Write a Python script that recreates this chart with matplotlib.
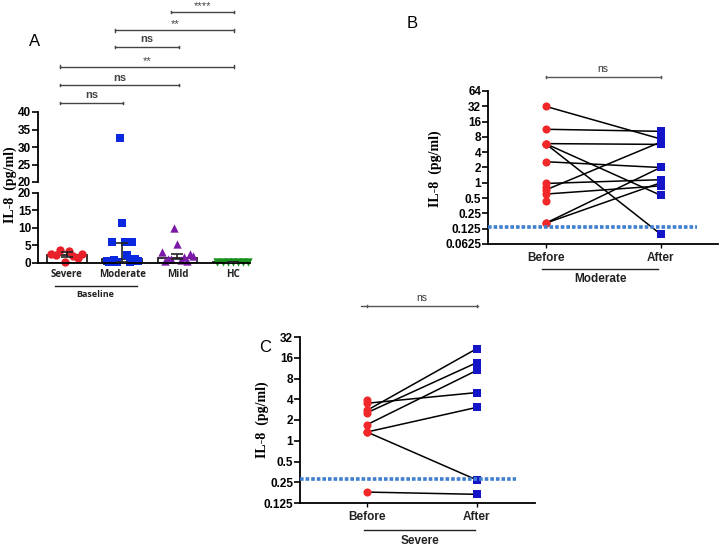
import numpy as np
import matplotlib.pyplot as plt
from matplotlib.transforms import blended_transform_factory

W, H = 723, 547
SANS = 'Liberation Sans'
SERIF = 'Liberation Serif'

# ---- panel A data (baseline, pg/ml) ----
groups = ['Severe', 'Moderate', 'Mild', 'HC']
severe = [2.6, 2.3, 3.7, 0.4, 3.5, 2.0, 1.5, 2.7]
moderate = [0.5, 0.3, 6.0, 0.8, 0.4, 32.7, 11.5, 6.0, 2.4, 0.3, 6.0, 1.0, 0.5]
mild = [3.0, 0.6, 1.2, 1.0, 10.0, 5.5, 0.8, 1.8, 0.5, 2.5, 2.0]
hc = [0.3, 0.3, 0.3, 0.3, 0.3, 0.3, 0.3]
bar_h = [2.4, 1.0, 1.5, 0.3]
err_lo = [0.8, 0.6, 0.5, 0.1]
err_hi = [0.7, 4.8, 1.2, 0.1]
sig_pairs = [(0, 1), (0, 2), (0, 3), (1, 2), (1, 3), (2, 3)]
sig_text = ['ns', 'ns', '**', 'ns', '**', '****']
sig_y = [42.6, 47.7, 52.9, 58.6, 63.4, 68.6]

# ---- panel B data (moderate, before / after) ----
mod_before = [32, 11.3, 5.9, 5.9, 5.9, 2.6, 0.97, 0.72, 0.6, 0.16, 0.16, 0.44, 0.82]
mod_after = [7.3, 10.3, 5.7, 0.57, 0.098, 2.0, 1.15, 6.3, 0.87, 2.0, 1.0, np.nan, np.nan]
mod_lod = 0.135

# ---- panel C data (severe, before / after) ----
sev_before = [3.5, 2.76, 2.55, 1.71, 1.34, 1.34, 0.18, 3.86]
sev_after = [5.0, 21.7, 13.6, 10.5, 3.05, 0.27, 0.167, np.nan]
sev_lod = 0.28

fig = plt.figure(figsize=(7.23, 5.47), dpi=100)


def box(x0, y0, x1, y1):
    return [x0 / W, 1 - y1 / H, (x1 - x0) / W, (y1 - y0) / H]


def style(ax):
    for s in ['top', 'right']:
        ax.spines[s].set_visible(False)
    for s in ['left', 'bottom']:
        ax.spines[s].set_linewidth(1.3)
    ax.tick_params(axis='y', length=4, width=1.2, pad=1, labelsize=8.5)
    for t in ax.get_yticklabels():
        t.set_fontfamily(SANS)
        t.set_fontweight('bold')


# ================= panel A =================
axlo = fig.add_axes(box(38, 193, 250, 263))
axhi = fig.add_axes(box(38, 112, 250, 182))
xl = (-0.52, 3.31)
colors = ['#e8202a', '#0a28e0', '#7a1aa6', '#18901c']
marks = ['o', 's', '^', 'v']
data = [severe, moderate, mild, hc]

axlo.bar(range(4), bar_h, width=0.72, color='white', edgecolor='#222222', lw=1.3, zorder=1)
axlo.errorbar(range(4), bar_h, yerr=[err_lo, err_hi], fmt='none', ecolor='#222222',
              elinewidth=1.2, capsize=4, capthick=1.2, zorder=3)
for i, vals in enumerate(data):
    vals = np.array(vals)
    offs = np.linspace(-0.28, 0.28, len(vals))
    lo = vals <= 20
    axlo.scatter(i + offs[lo], vals[lo], s=36, marker=marks[i], color=colors[i],
                 zorder=2, clip_on=False, linewidths=0)
    axhi.scatter(i + offs[~lo], vals[~lo], s=36, marker=marks[i], color=colors[i],
                 zorder=2, clip_on=False, linewidths=0)

for ax in (axlo, axhi):
    style(ax)
    ax.set_xlim(*xl)
axlo.set_ylim(0, 20)
axlo.set_yticks([0, 5, 10, 15, 20])
axhi.set_ylim(20, 40)
axhi.set_yticks([20, 25, 30, 35, 40])
axhi.spines['bottom'].set_visible(False)
axhi.set_xticks([])
for ax in (axlo, axhi):
    for t in ax.get_yticklabels():
        t.set_fontfamily(SANS)
        t.set_fontweight('bold')
axlo.set_xticks(range(4))
axlo.set_xticklabels(groups, fontsize=7, fontweight='bold', fontfamily='Open Sans', color='#222222')
axlo.tick_params(axis='x', length=0, pad=4)

tr = blended_transform_factory(axlo.transData, axlo.transAxes)
axlo.plot([-0.22, 1.27], [-0.33, -0.33], color='#222222', lw=1.0, transform=tr, clip_on=False)
axlo.text(0.52, -0.38, 'Baseline', transform=tr, ha='center', va='top', fontsize=6.5,
          fontweight='bold', fontfamily='Open Sans', color='#222222')

for (i, j), lab, yv in zip(sig_pairs, sig_text, sig_y):
    x0, x1 = i - 0.12, j + 0.02
    axhi.plot([x0, x1], [yv, yv], color='#444444', lw=1.0, clip_on=False)
    axhi.plot([x0, x0], [yv - 0.4, yv + 0.4], color='#444444', lw=1.0, clip_on=False)
    axhi.plot([x1, x1], [yv - 0.4, yv + 0.4], color='#444444', lw=1.0, clip_on=False)
    if lab == 'ns':
        axhi.text((x0 + x1) / 2, yv + 0.7, lab, ha='center', va='bottom', fontsize=8,
                  fontweight='bold', color='#444444', fontfamily=SANS)
    else:
        axhi.text((x0 + x1) / 2, yv + 0.3, lab, ha='center', va='bottom', fontsize=8,
                  color='#444444', fontfamily=SANS)

fig.text(10 / W, 1 - 185 / H, 'IL-8  (pg/ml)', rotation=90, ha='center', va='center',
         fontsize=10, fontweight='bold', fontfamily=SERIF)
fig.text(35 / W, 1 - 42 / H, 'A', ha='center', va='center', fontsize=12, fontfamily=SANS)


# ================= paired panels =================
def paired(ax, before, after, lod, ylim, ticks, labels, xlim, lod_end, cond, ns_y):
    before = np.array(before)
    after = np.array(after)
    ax.set_yscale('log', base=2)
    for b, a in zip(before, after):
        if not np.isnan(a):
            ax.plot([0, 1], [b, a], color='black', lw=1.1, zorder=2)
    ax.scatter(np.zeros(len(before)), before, s=34, marker='o', color='#f0282a',
               zorder=3, linewidths=0, clip_on=False)
    ok = ~np.isnan(after)
    ax.scatter(np.ones(ok.sum()), after[ok], s=36, marker='s', color='#1414c8',
               zorder=3, linewidths=0, clip_on=False)
    ax.plot([xlim[0], lod_end], [lod, lod], color='#3f7fd0', lw=2.6, dashes=(1.0, 0.55),
            zorder=4, clip_on=False)
    ax.set_ylim(*ylim)
    ax.set_xlim(*xlim)
    ax.set_yticks(ticks)
    ax.set_yticklabels(labels)
    ax.minorticks_off()
    style(ax)
    ax.set_xticks([0, 1])
    ax.set_xticklabels(['Before', 'After'], fontsize=8.5, fontfamily=SANS, fontweight='bold',
                       color='#222222')
    ax.tick_params(axis='x', length=3, width=1.0, pad=3)
    tr = blended_transform_factory(ax.transData, ax.transAxes)
    ax.plot([-0.03, 0.98], [-0.165, -0.165], color='#222222', lw=1.0, transform=tr, clip_on=False)
    ax.text(0.48, -0.19, cond, transform=tr, ha='center', va='top', fontsize=8.5,
            fontfamily=SANS, fontweight='bold', color='#222222')
    ax.plot([0, 1], [ns_y, ns_y], color='#555555', lw=1.0, clip_on=False)
    for xx in (0, 1):
        ax.plot([xx, xx], [ns_y * 0.96, ns_y * 1.04], color='#555555', lw=1.0, clip_on=False)
    ax.text(0.5, ns_y * 1.12, 'ns', ha='center', va='bottom', fontsize=7.5,
            fontfamily=SANS, color='#333333')


axb = fig.add_axes(box(488, 91, 718, 244))
b_ticks = [0.0625, 0.125, 0.25, 0.5, 1, 2, 4, 8, 16, 32, 64]
b_labels = ['0.0625', '0.125', '0.25', '0.5', '1', '2', '4', '8', '16', '32', '64']
paired(axb, mod_before, mod_after, mod_lod, (0.0625, 64), b_ticks, b_labels,
       (-0.5, 1.5), 1.32, 'Moderate', 121)
fig.text(435 / W, 1 - 169 / H, 'IL-8  (pg/ml)', rotation=90, ha='center', va='center',
         fontsize=10, fontweight='bold', fontfamily=SERIF)
fig.text(412 / W, 1 - 24 / H, 'B', ha='center', va='center', fontsize=12, fontfamily=SANS)

axc = fig.add_axes(box(300, 337, 535, 503))
c_ticks = [0.125, 0.25, 0.5, 1, 2, 4, 8, 16, 32]
c_labels = ['0.125', '0.25', '0.5', '1', '2', '4', '8', '16', '32']
paired(axc, sev_before, sev_after, sev_lod, (0.125, 32), c_ticks, c_labels,
       (-0.61, 1.53), 1.36, 'Severe', 90)
axc.lines[-3].set_xdata([-0.05, 1.01])
fig.text(262 / W, 1 - 420 / H, 'IL-8  (pg/ml)', rotation=90, ha='center', va='center',
         fontsize=10, fontweight='bold', fontfamily=SERIF)
fig.text(265 / W, 1 - 348 / H, 'C', ha='center', va='center', fontsize=12, fontfamily=SANS)

fig.savefig('out.png', dpi=100)
